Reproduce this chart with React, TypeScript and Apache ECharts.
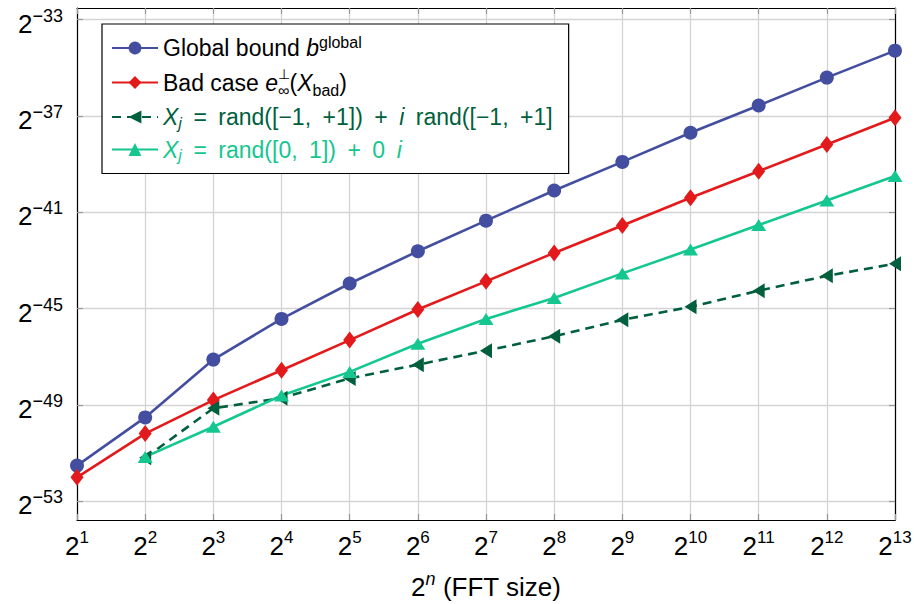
import React, { useEffect, useRef } from "react";
import * as echarts from "echarts";

// x: exponent n of the FFT size 2^n
const nValues = [1, 2, 3, 4, 5, 6, 7, 8, 9, 10, 11, 12, 13];
// y: log2 of the error
const globalBound = [-51.52, -49.52, -47.12, -45.43, -43.96, -42.62, -41.35, -40.1, -38.91, -37.7, -36.57, -35.41, -34.29];
const badCase = [-52.01, -50.19, -48.8, -47.56, -46.31, -45.04, -43.87, -42.69, -41.55, -40.4, -39.3, -38.19, -37.08];
const randComplex = [null, -51.2, -49.14, -48.72, -47.9, -47.33, -46.75, -46.15, -45.47, -44.93, -44.26, -43.64, -43.14];
const randReal = [null, -51.16, -49.91, -48.61, -47.63, -46.46, -45.43, -44.56, -43.54, -42.55, -41.53, -40.51, -39.5];
const yTickValues = [-53, -49, -45, -41, -37, -33];

const FONT = "'Liberation Sans', Arial, sans-serif";
const BLUE = "#444ea0";
const RED = "#e31a1c";
const DARK = "#005f3d";
const TEAL = "#14c68f";

const L = 23;
const S = 16;
const E = "\u2002";

const legendLabels: Record<string, string> = {
  global: `{r1|Global bound }{r1i|b}{r1s|global}`,
  bad: `{r2|Bad case }{r2i|e}{r2p|\u22a5}{r2b|\u221e}{r2|(}{r2i|X}{r2c|bad}{r2|)}`,
  complex: `{r3i|X}{r3b|j}{r3|${E}=${E}rand([\u22121,${E}+1])${E}+${E}}{r3i|i}{r3|${E}rand([\u22121,${E}+1]}`,
  real: `{r4i|X}{r4b|j}{r4|${E}=${E}rand([0,${E}1])${E}+${E}0${E}}{r4i|i}`,
};

function pairs(arr: (number | null)[]) {
  const out: number[][] = [];
  nValues.forEach((n, i) => {
    const v = arr[i];
    if (v !== null && v !== undefined) out.push([n, v]);
  });
  return out;
}

const xTickRich = {
  b: { fontSize: 26, lineHeight: 34, fontFamily: FONT, color: "#000" },
  s: { fontSize: 17, lineHeight: 18, verticalAlign: "top", fontFamily: FONT, color: "#000" },
};
const yTickRich = {
  b: { fontSize: 26, lineHeight: 34, fontFamily: FONT, color: "#000" },
  s: { fontSize: 18, lineHeight: 18, verticalAlign: "top", fontFamily: FONT, color: "#000" },
};

export default function App() {
  const ref = useRef<HTMLDivElement>(null);
  useEffect(() => {
    if (!ref.current) return;
    const chart = echarts.init(ref.current, null, { renderer: "svg" });
    const lineSeries = (name: string, data: (number | null)[], color: string, extra: any) => ({
      type: "line",
      name,
      data: pairs(data),
      xAxisIndex: 0,
      yAxisIndex: 0,
      clip: false,
      showSymbol: true,
      itemStyle: { color, borderWidth: 0 },
      lineStyle: { color, width: 2.6 },
      emphasis: { disabled: true },
      ...extra,
    });
    const option: any = {
      animation: false,
      backgroundColor: "#fff",
      grid: { left: 77, right: 19, top: 8, bottom: 84, containLabel: false, outerBoundsMode: "none" },
      xAxis: [
        {
          type: "value",
          position: "bottom",
          min: 1,
          max: 13,
          interval: 1,
          axisLine: { show: true, onZero: false, lineStyle: { color: "#000", width: 1.2 } },
          axisTick: { show: true, inside: true, length: 6, lineStyle: { color: "#999", width: 1.2 } },
          axisLabel: {
            margin: 9,
            formatter: (v: number) => `{b|2}{s|${v}}`,
            rich: xTickRich,
          },
          splitLine: { show: true, lineStyle: { color: "#d4d4d4", width: 1.3 } },
          name: "{nb|2}{ns|n}{nb| (FFT size)}",
          nameLocation: "middle",
          nameGap: 50,
          nameTextStyle: {
            rich: {
              nb: { fontSize: 26, lineHeight: 34, fontFamily: FONT, color: "#000" },
              ns: { fontSize: 18, lineHeight: 24, verticalAlign: "top", fontStyle: "italic", fontFamily: FONT, color: "#000" },
            },
          },
        },
        {
          type: "value",
          position: "top",
          min: 1,
          max: 13,
          interval: 1,
          axisLine: { show: true, onZero: false, lineStyle: { color: "#000", width: 1.2 } },
          axisTick: { show: true, inside: true, length: 6, lineStyle: { color: "#999", width: 1.2 } },
          axisLabel: { show: false },
          splitLine: { show: false },
        },
      ],
      yAxis: [
        {
          type: "value",
          position: "left",
          min: -53.78,
          max: -32.52,
          axisLine: { show: true, onZero: false, lineStyle: { color: "#000", width: 1.2 } },
          axisTick: { show: true, inside: true, length: 6, customValues: yTickValues, lineStyle: { color: "#999", width: 1.2 } },
          axisLabel: {
            customValues: yTickValues,
            margin: 14,
            padding: [8, 0, 0, 0],
            formatter: (v: number) => `{b|2}{s|${v < 0 ? "\u2212" + Math.abs(v) : v}}`,
            rich: yTickRich,
          },
          splitLine: { show: true, lineStyle: { color: "#d4d4d4", width: 1.3 } },
        },
        {
          type: "value",
          position: "right",
          min: -53.78,
          max: -32.52,
          axisLine: { show: true, onZero: false, lineStyle: { color: "#000", width: 1.2 } },
          axisTick: { show: true, inside: true, length: 6, customValues: yTickValues, lineStyle: { color: "#999", width: 1.2 } },
          axisLabel: { show: false },
          splitLine: { show: false },
        },
      ],
      legend: {
        show: true,
        orient: "vertical",
        left: 102,
        top: 24,
        padding: [10, 16, 10, 9],
        itemGap: 7,
        itemWidth: 46,
        itemHeight: 16,
        backgroundColor: "#fff",
        borderColor: "#000",
        borderWidth: 1.2,
        borderRadius: 0,
        selectedMode: false,
        data: ["global", "bad", "complex", "real"],
        formatter: (name: string) => legendLabels[name],
        textStyle: {
          fontFamily: FONT,
          fontSize: L,
          color: "#000",
          rich: {
            r1: { fontSize: L, lineHeight: 28, fontFamily: FONT, color: "#000" },
            r1i: { fontSize: L, lineHeight: 28, fontFamily: FONT, color: "#000", fontStyle: "italic" },
            r1s: { fontSize: S, lineHeight: 14, verticalAlign: "top", fontFamily: FONT, color: "#000" },
            r2: { fontSize: L, lineHeight: 32, fontFamily: FONT, color: "#000" },
            r2i: { fontSize: L, lineHeight: 32, fontFamily: FONT, color: "#000", fontStyle: "italic" },
            r2p: { fontSize: 14, lineHeight: 10, verticalAlign: "top", width: 0, align: "left", fontFamily: FONT, color: "#000" },
            r2b: { fontSize: S, lineHeight: 18, verticalAlign: "bottom", fontFamily: FONT, color: "#000" },
            r2c: { fontSize: S, lineHeight: 20, verticalAlign: "bottom", fontFamily: FONT, color: "#000" },
            r3: { fontSize: L, lineHeight: 28, fontFamily: FONT, color: DARK },
            r3i: { fontSize: L, lineHeight: 28, fontFamily: FONT, color: DARK, fontStyle: "italic" },
            r3b: { fontSize: S, lineHeight: 16, verticalAlign: "bottom", fontFamily: FONT, color: DARK, fontStyle: "italic" },
            r4: { fontSize: L, lineHeight: 28, fontFamily: FONT, color: TEAL },
            r4i: { fontSize: L, lineHeight: 28, fontFamily: FONT, color: TEAL, fontStyle: "italic" },
            r4b: { fontSize: S, lineHeight: 16, verticalAlign: "bottom", fontFamily: FONT, color: TEAL, fontStyle: "italic" },
          },
        },
      },
      series: [
        lineSeries("global", globalBound, BLUE, { symbol: "circle", symbolSize: 14 }),
        lineSeries("bad", badCase, RED, { symbol: "diamond", symbolSize: [13, 17] }),
        lineSeries("complex", randComplex, DARK, {
          symbol: "triangle",
          symbolSize: [15, 12],
          symbolRotate: 90,
          lineStyle: { color: DARK, width: 2.6, type: [9, 6] },
        }),
        lineSeries("real", randReal, TEAL, { symbol: "triangle", symbolSize: [15, 12] }),
      ],
    };
    chart.setOption(option);
    return () => chart.dispose();
  }, []);
  return (
    <div
      ref={ref}
      style={{ position: "fixed", left: 0, top: 0, width: 914, height: 604, background: "#fff" }}
    />
  );
}
